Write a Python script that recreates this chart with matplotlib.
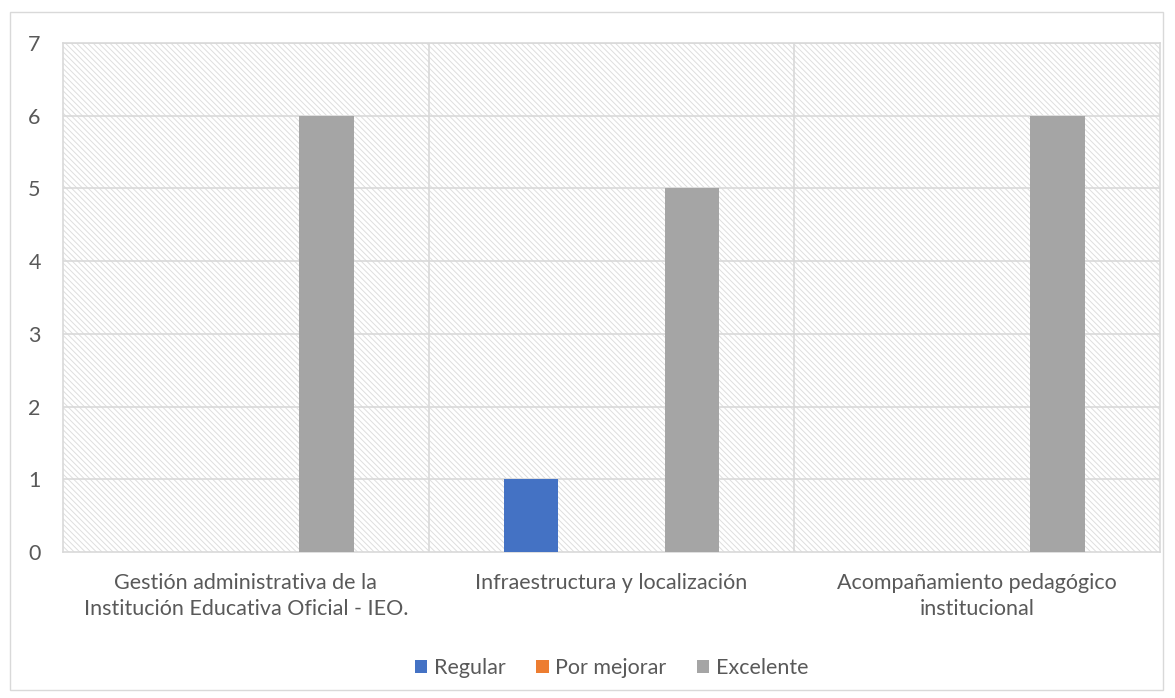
#!/usr/bin/env python3

import numpy as np
import matplotlib
matplotlib.use('Agg')
import matplotlib.pyplot as plt
from matplotlib.patches import Rectangle

categories = ['Gestión administrativa de la\nInstitución Educativa Oficial - IEO.',
              'Infraestructura y localización',
              'Acompañamiento pedagógico\ninstitucional']
series_names = ['Regular', 'Por mejorar', 'Excelente']
regular = [0, 1, 0]
por_mejorar = [0, 0, 0]
excelente = [6, 5, 6]
colors = ['#4472C4', '#ED7D31', '#A5A5A5']

plt.rcParams['font.family'] = ['Lato', 'DejaVu Sans']
plt.rcParams['hatch.linewidth'] = 0.7

fig = plt.figure(figsize=(11.75, 6.98), dpi=100)
ax = fig.add_axes([63 / 1175, 146 / 698, 1097 / 1175, 509 / 698])

# outer chart border
fig.patches.append(Rectangle((10 / 1175, 8 / 698), 1153 / 1175, 678 / 698,
                             transform=fig.transFigure, fill=False,
                             edgecolor='#d9d9d9', linewidth=1))

# hatched plot area
ax.add_patch(Rectangle((0, 0), 1, 1, transform=ax.transAxes,
                       facecolor='white', edgecolor='#dedede',
                       hatch='\\\\\\\\\\\\', linewidth=0, zorder=0))

index = np.arange(len(categories))
offsets = [-0.22, 0, 0.22]
width = 0.15
for vals, name, col, off in zip([regular, por_mejorar, excelente],
                                series_names, colors, offsets):
    ax.bar(index + off, vals, width, color=col, label=name, zorder=3)

ax.set_xlim(-0.5, 2.5)
ax.set_ylim(0, 7)
ax.set_yticks(range(8))
ax.set_xticks(index)
ax.set_xticklabels(categories, linespacing=1.4)
ax.tick_params(axis='both', length=0, labelsize=15.5, labelcolor='#595959')
ax.tick_params(axis='x', pad=15)
ax.tick_params(axis='y', pad=25)
for lab in ax.get_yticklabels():
    lab.set_horizontalalignment('left')

for y in range(1, 8):
    ax.axhline(y, color='#d9d9d9', linewidth=1.2, zorder=1)
for x in [0.5, 1.5]:
    ax.axvline(x, color='#d9d9d9', linewidth=1.2, zorder=1)
for s in ax.spines.values():
    s.set_color('#d9d9d9')
    s.set_linewidth(1.2)

ax.legend(loc='center', bbox_to_anchor=(0.5, -0.228), ncol=3,
          frameon=False, fontsize=15.5, labelcolor='#595959',
          handlelength=0.6, handleheight=0.6, handletextpad=0.3,
          columnspacing=1.4)

fig.savefig('out.png', dpi=100)
